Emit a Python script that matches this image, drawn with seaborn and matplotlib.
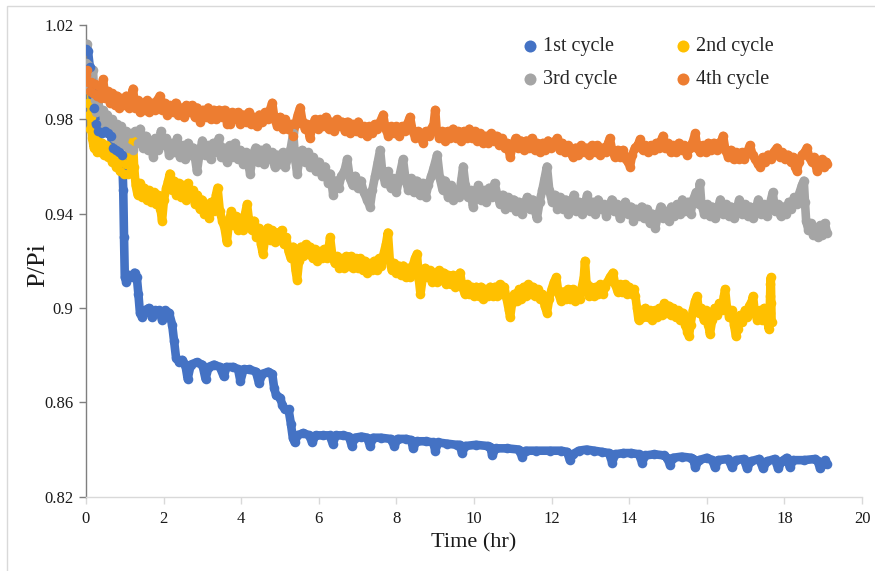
import numpy as np
import pandas as pd
import matplotlib
matplotlib.use("Agg")
import matplotlib.pyplot as plt
import seaborn as sns
from matplotlib.patches import Rectangle

# ---- data: (time hr, P/Pi) ----
cycle1 = [
    (0.00, 1.010), (0.05, 1.009), (0.10, 1.002), (0.15, 0.993), (0.20, 0.985), (0.26, 0.978),
    (0.32, 0.975), (0.40, 0.974), (0.48, 0.975), (0.56, 0.974), (0.64, 0.973), (0.70, 0.968),
    (0.78, 0.967), (0.86, 0.966), (0.93, 0.965), (0.96, 0.950), (0.98, 0.930), (1.00, 0.913),
    (1.04, 0.911), (1.10, 0.914), (1.18, 0.913), (1.25, 0.915), (1.31, 0.913), (1.35, 0.906),
    (1.39, 0.898), (1.45, 0.896), (1.52, 0.899), (1.62, 0.900), (1.70, 0.896), (1.78, 0.899),
    (1.88, 0.899), (1.96, 0.895), (2.04, 0.899), (2.14, 0.898), (2.22, 0.893), (2.27, 0.886),
    (2.32, 0.879), (2.40, 0.877), (2.48, 0.878), (2.56, 0.876), (2.62, 0.870), (2.70, 0.876),
    (2.85, 0.877), (3.00, 0.876), (3.08, 0.870), (3.16, 0.875), (3.30, 0.876), (3.45, 0.875),
    (3.55, 0.871), (3.62, 0.875), (3.80, 0.875), (3.92, 0.874), (3.98, 0.869), (4.06, 0.874),
    (4.20, 0.874), (4.38, 0.873), (4.46, 0.868), (4.54, 0.872), (4.70, 0.873), (4.80, 0.872),
    (4.85, 0.866), (4.90, 0.863), (5.00, 0.862), (5.06, 0.859), (5.12, 0.857), (5.22, 0.857),
    (5.28, 0.851), (5.33, 0.845), (5.38, 0.843), (5.45, 0.846), (5.60, 0.847), (5.75, 0.846),
    (5.83, 0.843), (5.92, 0.846), (6.10, 0.846), (6.28, 0.846), (6.36, 0.8425), (6.44, 0.846),
    (6.62, 0.846), (6.78, 0.8455), (6.85, 0.8415), (6.93, 0.845), (7.10, 0.8455), (7.25, 0.845),
    (7.32, 0.8415), (7.40, 0.845), (7.60, 0.845), (7.85, 0.8445), (7.95, 0.8415), (8.03, 0.8445),
    (8.25, 0.8445), (8.38, 0.844), (8.43, 0.8405), (8.52, 0.8435), (8.75, 0.8435), (8.95, 0.843),
    (9.00, 0.8395), (9.08, 0.843), (9.30, 0.8425), (9.55, 0.842), (9.63, 0.842), (9.69, 0.8385),
    (9.78, 0.8415), (10.05, 0.842), (10.35, 0.8415), (10.42, 0.841), (10.47, 0.8375), (10.56, 0.8405),
    (10.85, 0.8405), (11.15, 0.840), (11.24, 0.837), (11.33, 0.8395), (11.60, 0.8395), (11.95, 0.8395),
    (12.25, 0.8395), (12.40, 0.839), (12.47, 0.8355), (12.55, 0.838), (12.70, 0.8395), (12.90, 0.840),
    (13.10, 0.8395), (13.30, 0.839), (13.48, 0.8385), (13.56, 0.8345), (13.64, 0.838), (13.85, 0.8385),
    (14.05, 0.8385), (14.25, 0.838), (14.33, 0.8345), (14.42, 0.8375), (14.65, 0.838), (14.90, 0.8375),
    (14.98, 0.8365), (15.05, 0.8335), (15.13, 0.8365), (15.35, 0.837), (15.60, 0.8365), (15.65, 0.836),
    (15.70, 0.8325), (15.80, 0.8355), (16.00, 0.8365), (16.14, 0.8355), (16.21, 0.8325), (16.30, 0.8355),
    (16.55, 0.836), (16.65, 0.8325), (16.75, 0.8355), (16.95, 0.836), (17.04, 0.832), (17.13, 0.835),
    (17.35, 0.836), (17.45, 0.832), (17.55, 0.835), (17.75, 0.836), (17.84, 0.832), (17.93, 0.835),
    (18.06, 0.8365), (18.14, 0.8325), (18.23, 0.8355), (18.50, 0.8355), (18.80, 0.836), (18.86, 0.835),
    (18.92, 0.832), (19.00, 0.834), (19.05, 0.8355), (19.10, 0.834),
]

cycle2 = [
    (0.00, 0.996), (0.02, 0.993), (0.04, 0.987), (0.07, 0.982), (0.10, 0.976), (0.13, 0.981),
    (0.16, 0.972), (0.20, 0.968), (0.24, 0.973), (0.28, 0.966), (0.32, 0.971), (0.37, 0.966),
    (0.42, 0.970), (0.47, 0.965), (0.52, 0.969), (0.57, 0.964), (0.62, 0.968), (0.67, 0.962),
    (0.72, 0.965), (0.77, 0.960), (0.82, 0.964), (0.87, 0.958), (0.92, 0.962), (0.97, 0.957),
    (1.02, 0.961), (1.07, 0.957), (1.12, 0.965), (1.17, 0.969), (1.21, 0.971), (1.24, 0.960),
    (1.28, 0.952), (1.33, 0.948), (1.38, 0.953), (1.44, 0.947), (1.50, 0.951), (1.56, 0.946),
    (1.62, 0.950), (1.68, 0.945), (1.74, 0.949), (1.80, 0.944), (1.86, 0.948), (1.92, 0.942),
    (1.96, 0.937), (2.01, 0.946), (2.07, 0.951), (2.12, 0.954), (2.16, 0.957), (2.21, 0.950),
    (2.27, 0.954), (2.33, 0.948), (2.39, 0.953), (2.45, 0.947), (2.51, 0.952), (2.57, 0.946),
    (2.63, 0.953), (2.69, 0.947), (2.75, 0.950), (2.81, 0.944), (2.87, 0.948), (2.93, 0.942),
    (2.99, 0.946), (3.05, 0.940), (3.11, 0.944), (3.17, 0.938), (3.23, 0.945), (3.29, 0.941),
    (3.35, 0.948), (3.39, 0.951), (3.45, 0.941), (3.51, 0.937), (3.57, 0.934), (3.63, 0.928),
    (3.68, 0.936), (3.74, 0.941), (3.80, 0.935), (3.86, 0.939), (3.92, 0.933), (3.98, 0.938),
    (4.04, 0.933), (4.10, 0.940), (4.15, 0.944), (4.21, 0.936), (4.27, 0.933), (4.33, 0.937),
    (4.39, 0.930), (4.45, 0.934), (4.51, 0.927), (4.56, 0.923), (4.62, 0.930), (4.68, 0.934),
    (4.74, 0.929), (4.80, 0.933), (4.86, 0.928), (4.92, 0.932), (4.98, 0.929), (5.04, 0.933),
    (5.10, 0.927), (5.16, 0.930), (5.22, 0.924), (5.28, 0.921), (5.34, 0.926), (5.40, 0.916),
    (5.44, 0.912), (5.49, 0.920), (5.54, 0.926), (5.60, 0.922), (5.66, 0.927), (5.72, 0.923),
    (5.78, 0.926), (5.84, 0.921), (5.90, 0.925), (5.96, 0.920), (6.02, 0.924), (6.08, 0.921),
    (6.14, 0.925), (6.20, 0.921), (6.26, 0.926), (6.29, 0.930), (6.35, 0.922), (6.41, 0.919),
    (6.47, 0.922), (6.53, 0.917), (6.59, 0.921), (6.65, 0.917), (6.71, 0.922), (6.77, 0.918),
    (6.83, 0.922), (6.89, 0.917), (6.95, 0.921), (7.01, 0.917), (7.07, 0.921), (7.13, 0.916),
    (7.19, 0.920), (7.25, 0.915), (7.31, 0.919), (7.37, 0.916), (7.43, 0.920), (7.49, 0.916),
    (7.55, 0.921), (7.61, 0.918), (7.67, 0.923), (7.73, 0.927), (7.78, 0.932), (7.83, 0.920),
    (7.88, 0.916), (7.94, 0.919), (8.00, 0.915), (8.06, 0.918), (8.12, 0.914), (8.18, 0.918),
    (8.24, 0.913), (8.30, 0.917), (8.36, 0.913), (8.42, 0.918), (8.48, 0.921), (8.53, 0.923),
    (8.58, 0.912), (8.62, 0.906), (8.68, 0.913), (8.74, 0.917), (8.80, 0.913), (8.86, 0.916),
    (8.92, 0.911), (8.98, 0.915), (9.04, 0.911), (9.10, 0.916), (9.16, 0.912), (9.22, 0.915),
    (9.28, 0.910), (9.34, 0.914), (9.40, 0.910), (9.46, 0.914), (9.52, 0.909), (9.58, 0.913),
    (9.64, 0.915), (9.70, 0.909), (9.76, 0.906), (9.82, 0.910), (9.88, 0.906), (9.94, 0.909),
    (10.00, 0.905), (10.06, 0.909), (10.12, 0.905), (10.18, 0.909), (10.24, 0.904), (10.30, 0.908),
    (10.36, 0.905), (10.42, 0.909), (10.48, 0.905), (10.54, 0.909), (10.60, 0.905), (10.66, 0.910),
    (10.72, 0.906), (10.78, 0.909), (10.84, 0.904), (10.90, 0.899), (10.93, 0.896), (10.98, 0.902),
    (11.04, 0.906), (11.10, 0.903), (11.16, 0.908), (11.22, 0.904), (11.28, 0.909), (11.34, 0.905),
    (11.40, 0.910), (11.46, 0.906), (11.52, 0.909), (11.58, 0.905), (11.64, 0.908), (11.70, 0.904),
    (11.76, 0.906), (11.82, 0.901), (11.88, 0.898), (11.94, 0.904), (12.00, 0.908), (12.06, 0.911),
    (12.12, 0.913), (12.18, 0.906), (12.24, 0.903), (12.30, 0.907), (12.36, 0.904), (12.42, 0.908),
    (12.48, 0.904), (12.54, 0.908), (12.60, 0.903), (12.66, 0.907), (12.72, 0.904), (12.78, 0.909),
    (12.83, 0.913), (12.86, 0.920), (12.90, 0.910), (12.96, 0.905), (13.02, 0.909), (13.08, 0.905),
    (13.14, 0.909), (13.20, 0.906), (13.26, 0.910), (13.32, 0.906), (13.38, 0.909), (13.44, 0.911),
    (13.50, 0.913), (13.58, 0.915), (13.64, 0.910), (13.70, 0.907), (13.76, 0.910), (13.82, 0.907),
    (13.88, 0.910), (13.94, 0.906), (14.00, 0.909), (14.06, 0.906), (14.12, 0.908), (14.16, 0.905),
    (14.20, 0.900), (14.24, 0.895), (14.30, 0.899), (14.36, 0.896), (14.42, 0.900), (14.48, 0.896),
    (14.54, 0.899), (14.60, 0.895), (14.66, 0.899), (14.72, 0.896), (14.78, 0.900), (14.84, 0.897),
    (14.90, 0.902), (14.96, 0.898), (15.02, 0.901), (15.08, 0.897), (15.14, 0.900), (15.20, 0.896),
    (15.26, 0.899), (15.32, 0.895), (15.38, 0.898), (15.44, 0.893), (15.50, 0.890), (15.54, 0.888),
    (15.58, 0.893), (15.64, 0.899), (15.70, 0.903), (15.75, 0.905), (15.80, 0.898), (15.86, 0.900),
    (15.92, 0.895), (15.98, 0.899), (16.04, 0.893), (16.08, 0.889), (16.14, 0.895), (16.20, 0.900),
    (16.26, 0.897), (16.32, 0.902), (16.38, 0.899), (16.44, 0.905), (16.47, 0.908), (16.52, 0.900),
    (16.58, 0.896), (16.64, 0.899), (16.70, 0.893), (16.75, 0.888), (16.80, 0.891), (16.86, 0.897),
    (16.92, 0.894), (16.98, 0.899), (17.04, 0.896), (17.10, 0.901), (17.16, 0.903), (17.19, 0.905),
    (17.24, 0.898), (17.30, 0.895), (17.36, 0.899), (17.42, 0.895), (17.48, 0.900), (17.54, 0.896),
    (17.60, 0.891), (17.62, 0.898), (17.63, 0.905), (17.64, 0.910), (17.65, 0.913), (17.66, 0.902),
    (17.67, 0.894),
]

cycle3 = [
    (0.00, 1.004), (0.03, 1.012), (0.06, 1.003), (0.09, 0.994), (0.13, 0.999), (0.18, 1.001),
    (0.22, 0.988), (0.27, 0.983), (0.32, 0.988), (0.37, 0.978), (0.43, 0.984), (0.49, 0.976),
    (0.55, 0.982), (0.61, 0.974), (0.67, 0.980), (0.73, 0.972), (0.79, 0.978), (0.85, 0.970),
    (0.91, 0.977), (0.97, 0.969), (1.03, 0.975), (1.09, 0.968), (1.15, 0.974), (1.21, 0.967),
    (1.27, 0.975), (1.33, 0.970), (1.40, 0.976), (1.47, 0.968), (1.54, 0.973), (1.61, 0.967),
    (1.67, 0.971), (1.73, 0.964), (1.79, 0.972), (1.86, 0.967), (1.93, 0.975), (2.00, 0.969),
    (2.07, 0.972), (2.14, 0.965), (2.21, 0.970), (2.28, 0.966), (2.35, 0.972), (2.42, 0.964),
    (2.49, 0.969), (2.56, 0.963), (2.63, 0.970), (2.70, 0.965), (2.77, 0.968), (2.86, 0.958),
    (2.93, 0.966), (3.00, 0.971), (3.07, 0.965), (3.14, 0.969), (3.21, 0.963), (3.28, 0.970),
    (3.35, 0.966), (3.42, 0.972), (3.49, 0.964), (3.56, 0.968), (3.63, 0.962), (3.70, 0.969),
    (3.77, 0.964), (3.84, 0.970), (3.91, 0.963), (3.98, 0.967), (4.05, 0.961), (4.12, 0.966),
    (4.23, 0.957), (4.30, 0.965), (4.37, 0.968), (4.44, 0.962), (4.51, 0.967), (4.58, 0.961),
    (4.65, 0.968), (4.72, 0.963), (4.79, 0.966), (4.86, 0.960), (4.93, 0.965), (5.00, 0.961),
    (5.07, 0.966), (5.14, 0.960), (5.21, 0.964), (5.28, 0.968), (5.34, 0.974), (5.40, 0.962),
    (5.44, 0.957), (5.50, 0.963), (5.57, 0.967), (5.64, 0.962), (5.71, 0.966), (5.78, 0.960),
    (5.85, 0.964), (5.92, 0.958), (6.00, 0.962), (6.08, 0.956), (6.16, 0.960), (6.24, 0.953),
    (6.30, 0.957), (6.37, 0.948), (6.44, 0.954), (6.51, 0.951), (6.58, 0.956), (6.66, 0.958),
    (6.73, 0.963), (6.80, 0.955), (6.87, 0.952), (6.94, 0.956), (7.01, 0.951), (7.08, 0.954),
    (7.16, 0.949), (7.24, 0.946), (7.32, 0.943), (7.38, 0.950), (7.45, 0.956), (7.52, 0.962),
    (7.58, 0.967), (7.64, 0.957), (7.71, 0.953), (7.78, 0.958), (7.85, 0.951), (7.92, 0.955),
    (8.00, 0.949), (8.08, 0.956), (8.17, 0.963), (8.24, 0.954), (8.31, 0.950), (8.38, 0.955),
    (8.45, 0.949), (8.52, 0.954), (8.60, 0.948), (8.68, 0.953), (8.75, 0.947), (8.82, 0.952),
    (8.90, 0.956), (8.97, 0.960), (9.05, 0.965), (9.12, 0.955), (9.19, 0.950), (9.26, 0.954),
    (9.33, 0.947), (9.40, 0.952), (9.47, 0.946), (9.54, 0.950), (9.61, 0.947), (9.68, 0.955),
    (9.72, 0.960), (9.78, 0.952), (9.85, 0.947), (9.92, 0.950), (9.97, 0.943), (10.04, 0.948),
    (10.11, 0.952), (10.18, 0.946), (10.25, 0.950), (10.32, 0.945), (10.39, 0.951), (10.46, 0.947),
    (10.53, 0.953), (10.60, 0.948), (10.67, 0.944), (10.74, 0.948), (10.81, 0.942), (10.88, 0.947),
    (10.95, 0.943), (11.02, 0.946), (11.09, 0.941), (11.16, 0.945), (11.23, 0.940), (11.30, 0.944),
    (11.37, 0.947), (11.44, 0.942), (11.51, 0.946), (11.58, 0.941), (11.62, 0.938), (11.69, 0.945),
    (11.76, 0.950), (11.82, 0.955), (11.88, 0.960), (11.94, 0.950), (12.01, 0.945), (12.08, 0.948),
    (12.15, 0.942), (12.22, 0.947), (12.29, 0.942), (12.36, 0.946), (12.43, 0.940), (12.50, 0.944),
    (12.57, 0.948), (12.64, 0.941), (12.71, 0.945), (12.78, 0.940), (12.85, 0.944), (12.92, 0.948),
    (12.99, 0.941), (13.06, 0.945), (13.13, 0.940), (13.20, 0.946), (13.27, 0.942), (13.34, 0.944),
    (13.41, 0.939), (13.48, 0.943), (13.55, 0.946), (13.62, 0.941), (13.69, 0.944), (13.76, 0.938),
    (13.83, 0.942), (13.90, 0.945), (13.97, 0.940), (14.04, 0.943), (14.11, 0.937), (14.18, 0.942),
    (14.25, 0.939), (14.32, 0.943), (14.39, 0.938), (14.46, 0.942), (14.53, 0.936), (14.60, 0.940),
    (14.67, 0.934), (14.74, 0.939), (14.81, 0.943), (14.88, 0.938), (14.95, 0.941), (15.02, 0.937),
    (15.09, 0.943), (15.16, 0.939), (15.23, 0.944), (15.30, 0.940), (15.37, 0.946), (15.44, 0.941),
    (15.51, 0.945), (15.58, 0.940), (15.65, 0.946), (15.72, 0.949), (15.79, 0.944), (15.82, 0.953),
    (15.86, 0.944), (15.93, 0.940), (16.00, 0.944), (16.07, 0.939), (16.14, 0.943), (16.21, 0.938),
    (16.28, 0.942), (16.35, 0.946), (16.42, 0.940), (16.49, 0.944), (16.56, 0.939), (16.63, 0.943),
    (16.70, 0.938), (16.77, 0.942), (16.84, 0.946), (16.91, 0.940), (16.98, 0.944), (17.05, 0.939),
    (17.12, 0.943), (17.19, 0.938), (17.26, 0.942), (17.33, 0.946), (17.40, 0.940), (17.47, 0.944),
    (17.54, 0.939), (17.61, 0.943), (17.70, 0.949), (17.76, 0.941), (17.83, 0.944), (17.90, 0.939),
    (17.97, 0.943), (18.04, 0.940), (18.11, 0.945), (18.18, 0.942), (18.25, 0.947), (18.32, 0.944),
    (18.39, 0.949), (18.45, 0.952), (18.50, 0.954), (18.53, 0.945), (18.56, 0.937), (18.62, 0.933),
    (18.68, 0.936), (18.74, 0.931), (18.80, 0.934), (18.86, 0.930), (18.92, 0.935), (18.98, 0.931),
    (19.04, 0.936), (19.10, 0.932),
]

cycle4 = [
    (0.00, 0.999), (0.03, 1.001), (0.06, 0.996), (0.10, 0.992), (0.14, 0.996), (0.18, 0.991),
    (0.23, 0.995), (0.28, 0.990), (0.33, 0.994), (0.38, 0.989), (0.44, 0.997), (0.50, 0.989),
    (0.56, 0.992), (0.62, 0.987), (0.68, 0.991), (0.74, 0.986), (0.80, 0.990), (0.86, 0.985),
    (0.92, 0.989), (0.98, 0.986), (1.04, 0.990), (1.10, 0.985), (1.16, 0.989), (1.21, 0.993),
    (1.27, 0.985), (1.33, 0.988), (1.39, 0.983), (1.45, 0.987), (1.51, 0.984), (1.57, 0.988),
    (1.63, 0.983), (1.70, 0.987), (1.77, 0.984), (1.84, 0.988), (1.90, 0.990), (1.96, 0.984),
    (2.03, 0.987), (2.10, 0.982), (2.17, 0.986), (2.24, 0.983), (2.31, 0.987), (2.38, 0.982),
    (2.45, 0.985), (2.52, 0.981), (2.59, 0.986), (2.66, 0.983), (2.73, 0.986), (2.80, 0.981),
    (2.87, 0.985), (2.94, 0.979), (3.01, 0.984), (3.08, 0.981), (3.15, 0.985), (3.22, 0.980),
    (3.29, 0.984), (3.36, 0.980), (3.43, 0.984), (3.50, 0.981), (3.57, 0.984), (3.64, 0.978),
    (3.70, 0.978), (3.77, 0.983), (3.84, 0.980), (3.91, 0.983), (3.98, 0.978), (4.05, 0.982),
    (4.12, 0.979), (4.19, 0.983), (4.26, 0.978), (4.33, 0.981), (4.40, 0.977), (4.47, 0.982),
    (4.54, 0.979), (4.61, 0.983), (4.68, 0.980), (4.74, 0.984), (4.80, 0.987), (4.86, 0.980),
    (4.93, 0.977), (5.00, 0.981), (5.07, 0.976), (5.14, 0.980), (5.21, 0.976), (5.28, 0.978),
    (5.34, 0.973), (5.40, 0.978), (5.46, 0.982), (5.52, 0.985), (5.58, 0.979), (5.64, 0.976),
    (5.70, 0.978), (5.77, 0.972), (5.83, 0.977), (5.90, 0.980), (5.97, 0.976), (6.04, 0.980),
    (6.11, 0.977), (6.18, 0.981), (6.25, 0.976), (6.32, 0.979), (6.39, 0.975), (6.46, 0.980),
    (6.53, 0.977), (6.60, 0.979), (6.67, 0.975), (6.74, 0.979), (6.81, 0.974), (6.88, 0.978),
    (6.95, 0.975), (7.02, 0.979), (7.09, 0.974), (7.16, 0.977), (7.23, 0.973), (7.30, 0.977),
    (7.37, 0.974), (7.44, 0.978), (7.51, 0.976), (7.58, 0.979), (7.66, 0.982), (7.72, 0.976),
    (7.79, 0.973), (7.86, 0.977), (7.93, 0.974), (8.00, 0.977), (8.07, 0.973), (8.14, 0.977),
    (8.21, 0.975), (8.28, 0.978), (8.35, 0.981), (8.42, 0.975), (8.49, 0.972), (8.56, 0.975),
    (8.63, 0.972), (8.69, 0.970), (8.76, 0.975), (8.83, 0.973), (8.90, 0.976), (8.96, 0.978),
    (9.00, 0.984), (9.04, 0.975), (9.11, 0.972), (9.18, 0.975), (9.25, 0.971), (9.32, 0.975),
    (9.39, 0.972), (9.46, 0.976), (9.53, 0.972), (9.60, 0.975), (9.67, 0.971), (9.74, 0.975),
    (9.81, 0.972), (9.88, 0.976), (9.95, 0.972), (10.02, 0.975), (10.09, 0.971), (10.16, 0.974),
    (10.23, 0.970), (10.30, 0.973), (10.37, 0.970), (10.44, 0.974), (10.51, 0.971), (10.58, 0.973),
    (10.65, 0.969), (10.72, 0.972), (10.79, 0.968), (10.86, 0.970), (10.93, 0.964), (11.00, 0.969),
    (11.07, 0.972), (11.14, 0.968), (11.21, 0.971), (11.28, 0.967), (11.35, 0.971), (11.42, 0.968),
    (11.49, 0.972), (11.56, 0.967), (11.63, 0.970), (11.70, 0.966), (11.77, 0.970), (11.84, 0.967),
    (11.91, 0.971), (11.98, 0.968), (12.05, 0.970), (12.14, 0.972), (12.21, 0.967), (12.28, 0.970),
    (12.35, 0.966), (12.42, 0.969), (12.48, 0.966), (12.55, 0.964), (12.62, 0.968), (12.69, 0.965),
    (12.76, 0.969), (12.83, 0.966), (12.90, 0.968), (12.97, 0.965), (13.04, 0.969), (13.11, 0.966),
    (13.18, 0.969), (13.25, 0.965), (13.32, 0.968), (13.39, 0.966), (13.46, 0.970), (13.50, 0.972),
    (13.56, 0.967), (13.63, 0.964), (13.70, 0.967), (13.77, 0.964), (13.84, 0.967), (13.91, 0.963),
    (13.97, 0.962), (14.02, 0.960), (14.08, 0.965), (14.15, 0.968), (14.22, 0.969), (14.28, 0.9715),
    (14.35, 0.967), (14.42, 0.969), (14.49, 0.966), (14.56, 0.969), (14.63, 0.967), (14.70, 0.970),
    (14.77, 0.968), (14.82, 0.971), (14.87, 0.973), (14.93, 0.968), (15.00, 0.970), (15.07, 0.966),
    (15.14, 0.969), (15.21, 0.966), (15.28, 0.970), (15.35, 0.967), (15.42, 0.969), (15.49, 0.965),
    (15.56, 0.968), (15.63, 0.970), (15.70, 0.974), (15.76, 0.968), (15.83, 0.966), (15.90, 0.969),
    (15.97, 0.966), (16.04, 0.970), (16.11, 0.967), (16.18, 0.970), (16.25, 0.967), (16.32, 0.970),
    (16.38, 0.971), (16.42, 0.973), (16.48, 0.967), (16.55, 0.964), (16.62, 0.967), (16.69, 0.963),
    (16.76, 0.966), (16.83, 0.963), (16.90, 0.966), (16.97, 0.963), (17.04, 0.966), (17.11, 0.969),
    (17.18, 0.965), (17.25, 0.963), (17.32, 0.961), (17.37, 0.960), (17.44, 0.964), (17.51, 0.962),
    (17.58, 0.965), (17.65, 0.963), (17.72, 0.966), (17.81, 0.968), (17.88, 0.964), (17.95, 0.966),
    (18.02, 0.963), (18.09, 0.965), (18.16, 0.962), (18.23, 0.964), (18.28, 0.960), (18.32, 0.958),
    (18.38, 0.962), (18.45, 0.965), (18.52, 0.966), (18.58, 0.968), (18.64, 0.964), (18.70, 0.962),
    (18.76, 0.964), (18.84, 0.958), (18.90, 0.961), (18.96, 0.963), (19.02, 0.960), (19.08, 0.962),
    (19.10, 0.961),
]

labels = ["1st cycle", "2nd cycle", "3rd cycle", "4th cycle"]
colors = ["#4472C4", "#FFC000", "#A5A5A5", "#ED7D31"]
x_ticks = [0, 2, 4, 6, 8, 10, 12, 14, 16, 18, 20]
y_ticks = [0.82, 0.86, 0.90, 0.94, 0.98, 1.02]
y_tick_labels = ["0.82", "0.86", "0.9", "0.94", "0.98", "1.02"]

series = dict(zip(labels, [cycle1, cycle2, cycle3, cycle4]))
palette = dict(zip(labels, colors))

# ---- plotting ----
sns.set_style("white")
plt.rcParams["font.family"] = ["Liberation Serif", "DejaVu Serif"]

W, H = 875, 571
fig = plt.figure(figsize=(W / 100, H / 100), dpi=100)
ax_l, ax_r, ax_t, ax_b = 86, 862, 25, 496.7
ax = fig.add_axes([ax_l / W, 1 - ax_b / H, (ax_r - ax_l) / W, (ax_b - ax_t) / H])

draw_order = ["2nd cycle", "3rd cycle", "1st cycle", "4th cycle"]
for name in draw_order:
    df = pd.DataFrame(series[name], columns=["t", "v"])
    sns.lineplot(data=df, x="t", y="v", ax=ax, color=palette[name], estimator=None,
                 sort=False, linewidth=6.2, solid_capstyle="round", solid_joinstyle="round",
                 legend=False, zorder=2)
    sns.scatterplot(data=df, x="t", y="v", ax=ax, color=palette[name], s=48,
                    linewidth=0, label=name, zorder=3)

ax.set_xlim(0, 20)
ax.set_ylim(0.82, 1.02)
ax.set_xticks(x_ticks)
ax.set_xticklabels([str(v) for v in x_ticks])
ax.set_yticks(y_ticks)
ax.set_yticklabels(y_tick_labels)

for s in ["top", "right"]:
    ax.spines[s].set_visible(False)
ax.spines["left"].set_color("#7f7f7f")
ax.spines["left"].set_linewidth(1.0)
ax.spines["bottom"].set_color("#d9d9d9")
ax.spines["bottom"].set_linewidth(1.0)
ax.tick_params(axis="y", direction="out", length=5, width=1, color="#7f7f7f",
               labelsize=12, labelcolor="#1a1a1a", pad=4, left=True)
ax.tick_params(axis="x", direction="out", length=5, width=1, color="#d9d9d9",
               labelsize=12, labelcolor="#1a1a1a", pad=5, bottom=True)

ax.set_xlabel("Time (hr)", fontsize=16, color="#1a1a1a", labelpad=5)
ax.set_ylabel("P/Pi", fontsize=19, color="#1a1a1a")
ax.yaxis.set_label_coords((49 - ax_l) / (ax_r - ax_l), 1 - (265 - ax_t) / (ax_b - ax_t))
ax.grid(False)

handles, labs = ax.get_legend_handles_labels()
hmap = dict(zip(labs, handles))
order = ["1st cycle", "3rd cycle", "2nd cycle", "4th cycle"]
leg = ax.legend([hmap[k] for k in order], order, ncol=2, frameon=False,
                loc="upper left",
                bbox_to_anchor=((515 - ax_l) / (ax_r - ax_l), 1 - (29 - ax_t) / (ax_b - ax_t)),
                fontsize=14.5, handletextpad=0.3, columnspacing=2.9, labelspacing=0.7,
                handlelength=0.7, borderaxespad=0, markerscale=1.25)

# light chart-area border
fig.patches.append(Rectangle((7 / W, -0.05), 1.2, 1 - 6 / H + 0.05, transform=fig.transFigure,
                             fill=False, edgecolor="#d9d9d9", linewidth=1.0, zorder=0))

fig.savefig("out.png", dpi=100)
